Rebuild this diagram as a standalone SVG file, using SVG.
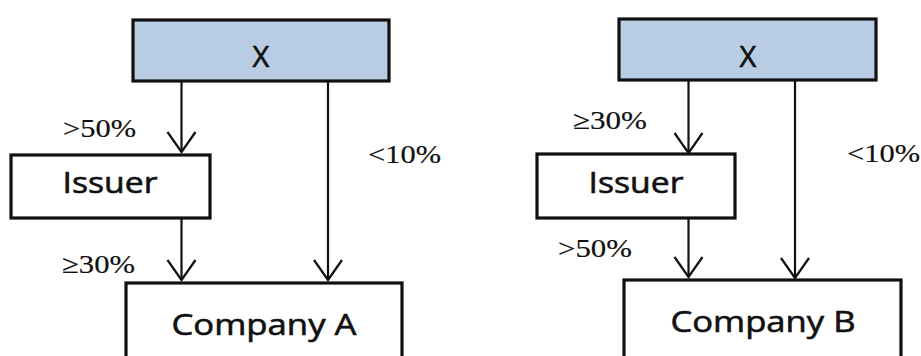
<svg xmlns="http://www.w3.org/2000/svg" width="921" height="356" viewBox="0 0 921 356">
<style>
.box{fill:#ffffff;stroke:#111111;stroke-width:3.2}
.top{fill:#b8cce4;stroke:#111111;stroke-width:3.2}
.lbl{font-family:"Open Sans","Liberation Sans",sans-serif;font-size:29px;fill:#111111;stroke:#111111;stroke-width:0.6;text-anchor:middle}
.pct{font-size:26px;fill:#111111;stroke:#111111;stroke-width:0.2}
.conn line{stroke:#111111;stroke-width:2.2;fill:none;marker-end:url(#v)}
</style>
<defs>
<marker id="v" markerUnits="userSpaceOnUse" orient="auto" refX="0" refY="0" markerWidth="40" markerHeight="40" overflow="visible">
<path d="M -20,-14 L 0,0 L -20,14" fill="none" stroke="#111111" stroke-width="2.2"/>
</marker>
</defs>
<rect width="921" height="356" fill="#ffffff"/>
<g id="x-left"><rect class="top" x="133" y="20" width="256" height="61"/><text class="lbl" x="261" y="67">X</text></g>
<g id="issuer-left"><rect class="box" x="11" y="155" width="199" height="63"/><text class="lbl" x="110" y="193" textLength="95" lengthAdjust="spacingAndGlyphs">Issuer</text></g>
<g id="company-a"><rect class="box" x="126" y="283" width="276" height="90"/><text class="lbl" x="264" y="335" textLength="185" lengthAdjust="spacingAndGlyphs">Company A</text></g>
<g id="x-right"><rect class="top" x="619" y="19" width="257" height="61"/><text class="lbl" x="748" y="67">X</text></g>
<g id="issuer-right"><rect class="box" x="537" y="154" width="198" height="64"/><text class="lbl" x="636" y="193" textLength="95" lengthAdjust="spacingAndGlyphs">Issuer</text></g>
<g id="company-b"><rect class="box" x="624" y="280" width="277" height="90"/><text class="lbl" x="763" y="332" textLength="185" lengthAdjust="spacingAndGlyphs">Company B</text></g>
<g id="connectors" class="conn">
<line x1="181.5" y1="82" x2="181.5" y2="152"/>
<line x1="328" y1="82" x2="328" y2="280"/>
<line x1="181.5" y1="219" x2="181.5" y2="280"/>
<line x1="688.5" y1="81" x2="688.5" y2="153"/>
<line x1="795" y1="81" x2="795" y2="278"/>
<line x1="688.5" y1="218" x2="688.5" y2="277"/>
</g>
<g id="labels" font-family="'Liberation Serif', 'DejaVu Serif', serif">
<text class="pct" x="63" y="137" textLength="73" lengthAdjust="spacingAndGlyphs">&gt;50%</text>
<text class="pct" x="368" y="163" textLength="73" lengthAdjust="spacingAndGlyphs">&lt;10%</text>
<text class="pct" x="62" y="273" textLength="73" lengthAdjust="spacingAndGlyphs">≥30%</text>
<text class="pct" x="573" y="129" textLength="74" lengthAdjust="spacingAndGlyphs">≥30%</text>
<text class="pct" x="558" y="257" textLength="74" lengthAdjust="spacingAndGlyphs">&gt;50%</text>
<text class="pct" x="847" y="162" textLength="73" lengthAdjust="spacingAndGlyphs">&lt;10%</text>
</g>
</svg>
